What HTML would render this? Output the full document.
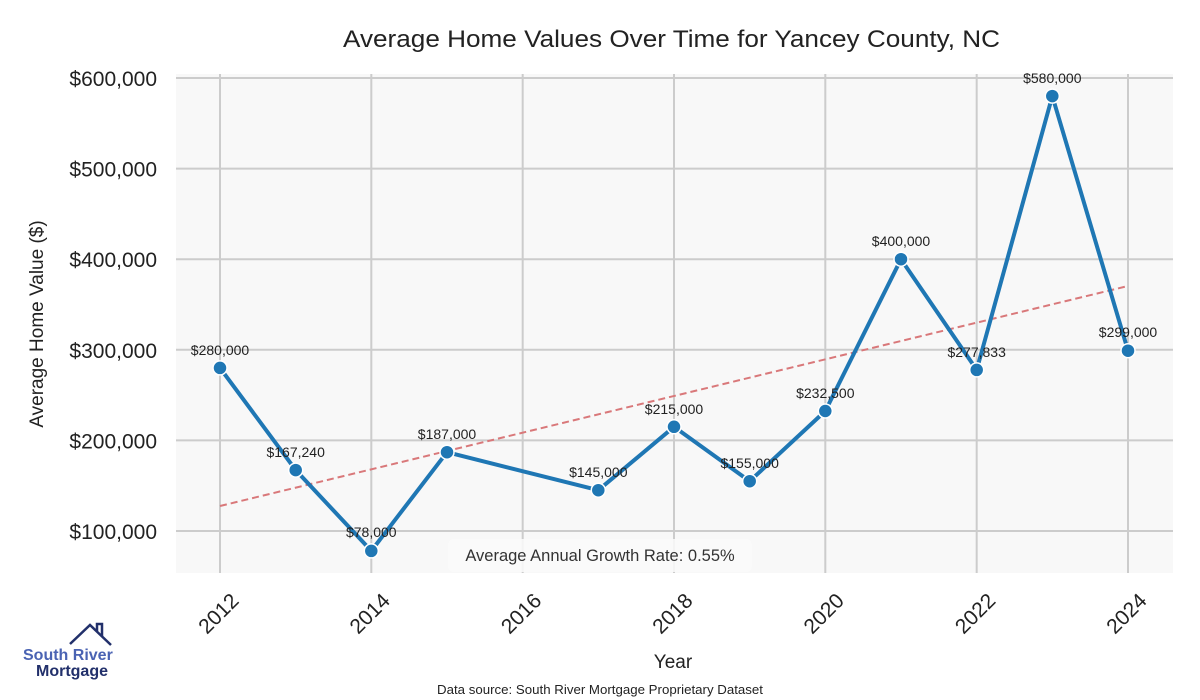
<!DOCTYPE html>
<html><head><meta charset="utf-8"><style>
body{margin:0;background:#fff;}
svg{display:block;font-family:"Liberation Sans",sans-serif;}
</style></head><body>
<svg width="1200" height="700" viewBox="0 0 1200 700" xmlns="http://www.w3.org/2000/svg">
<rect width="1200" height="700" fill="#fff"/>
<rect x="176" y="74" width="997" height="499" fill="#f8f8f8"/>
<g stroke="#cccccc" stroke-width="2">
<line x1="176" x2="1173" y1="78" y2="78"/>
<line x1="176" x2="1173" y1="168.6" y2="168.6"/>
<line x1="176" x2="1173" y1="259.2" y2="259.2"/>
<line x1="176" x2="1173" y1="349.8" y2="349.8"/>
<line x1="176" x2="1173" y1="440.4" y2="440.4"/>
<line x1="176" x2="1173" y1="531" y2="531"/>
<line x1="220" x2="220" y1="74" y2="573"/>
<line x1="371.3" x2="371.3" y1="74" y2="573"/>
<line x1="522.7" x2="522.7" y1="74" y2="573"/>
<line x1="674" x2="674" y1="74" y2="573"/>
<line x1="825.3" x2="825.3" y1="74" y2="573"/>
<line x1="976.7" x2="976.7" y1="74" y2="573"/>
<line x1="1128" x2="1128" y1="74" y2="573"/>
</g>
<line x1="220" y1="506" x2="1128" y2="286" stroke="#d9787a" stroke-width="2" stroke-dasharray="7,4"/>
<polyline fill="none" stroke="#1f77b4" stroke-width="4" stroke-linejoin="round" points="220,367.9 295.7,470.1 371.3,550.9 447,452.2 598.3,490.2 674,426.8 749.7,481.2 825.3,411 901,259.2 976.7,369.9 1052.3,96.1 1128,350.7"/>
<g fill="#1f77b4" stroke="#fff" stroke-width="1.5">
<circle cx="220" cy="367.9" r="7"/><circle cx="295.7" cy="470.1" r="7"/><circle cx="371.3" cy="550.9" r="7"/><circle cx="447" cy="452.2" r="7"/><circle cx="598.3" cy="490.2" r="7"/><circle cx="674" cy="426.8" r="7"/><circle cx="749.7" cy="481.2" r="7"/><circle cx="825.3" cy="411" r="7"/><circle cx="901" cy="259.2" r="7"/><circle cx="976.7" cy="369.9" r="7"/><circle cx="1052.3" cy="96.1" r="7"/><circle cx="1128" cy="350.7" r="7"/>
</g>
<g font-size="14" fill="#222" text-anchor="middle">
<text x="220" y="355">$280,000</text>
<text x="295.7" y="457">$167,240</text>
<text x="371.3" y="537">$78,000</text>
<text x="447" y="439">$187,000</text>
<text x="598.3" y="477">$145,000</text>
<text x="674" y="414">$215,000</text>
<text x="749.7" y="468">$155,000</text>
<text x="825.3" y="398">$232,500</text>
<text x="901" y="246">$400,000</text>
<text x="976.7" y="357">$277,833</text>
<text x="1052.3" y="83">$580,000</text>
<text x="1128" y="337">$299,000</text>
</g>
<rect x="448" y="539" width="304" height="33" rx="6" fill="#fafafa" fill-opacity="0.85"/>
<text x="600" y="561" font-size="16.5" fill="#333" text-anchor="middle">Average Annual Growth Rate: 0.55%</text>
<g font-size="21" fill="#222" text-anchor="end">
<text x="157" y="86">$600,000</text>
<text x="157" y="176.6">$500,000</text>
<text x="157" y="267.2">$400,000</text>
<text x="157" y="357.8">$300,000</text>
<text x="157" y="448.4">$200,000</text>
<text x="157" y="539">$100,000</text>
</g>
<g font-size="21" fill="#222" text-anchor="end">
<text transform="translate(240,602) rotate(-45)">2012</text>
<text transform="translate(391.3,602) rotate(-45)">2014</text>
<text transform="translate(542.7,602) rotate(-45)">2016</text>
<text transform="translate(694,602) rotate(-45)">2018</text>
<text transform="translate(845.3,602) rotate(-45)">2020</text>
<text transform="translate(996.7,602) rotate(-45)">2022</text>
<text transform="translate(1148,602) rotate(-45)">2024</text>
</g>
<text x="343" y="47" font-size="24" fill="#222" textLength="657" lengthAdjust="spacingAndGlyphs">Average Home Values Over Time for Yancey County, NC</text>
<text x="673" y="668" font-size="19" fill="#222" text-anchor="middle">Year</text>
<text transform="translate(43,324) rotate(-90)" font-size="19" fill="#222" text-anchor="middle">Average Home Value ($)</text>
<text x="437" y="694" font-size="13" fill="#222" textLength="326" lengthAdjust="spacingAndGlyphs">Data source: South River Mortgage Proprietary Dataset</text>
<polyline points="70,644 90,625 111,645" fill="none" stroke="#22306b" stroke-width="2.5"/>
<polyline points="97,631 97,624 102,624 102,636" fill="none" stroke="#22306b" stroke-width="2.5"/>
<text x="23" y="660" font-size="16" font-weight="bold" fill="#4a63b3">South River</text>
<text x="36" y="676" font-size="16" font-weight="bold" fill="#22306b">Mortgage</text>
</svg>
</body></html>
